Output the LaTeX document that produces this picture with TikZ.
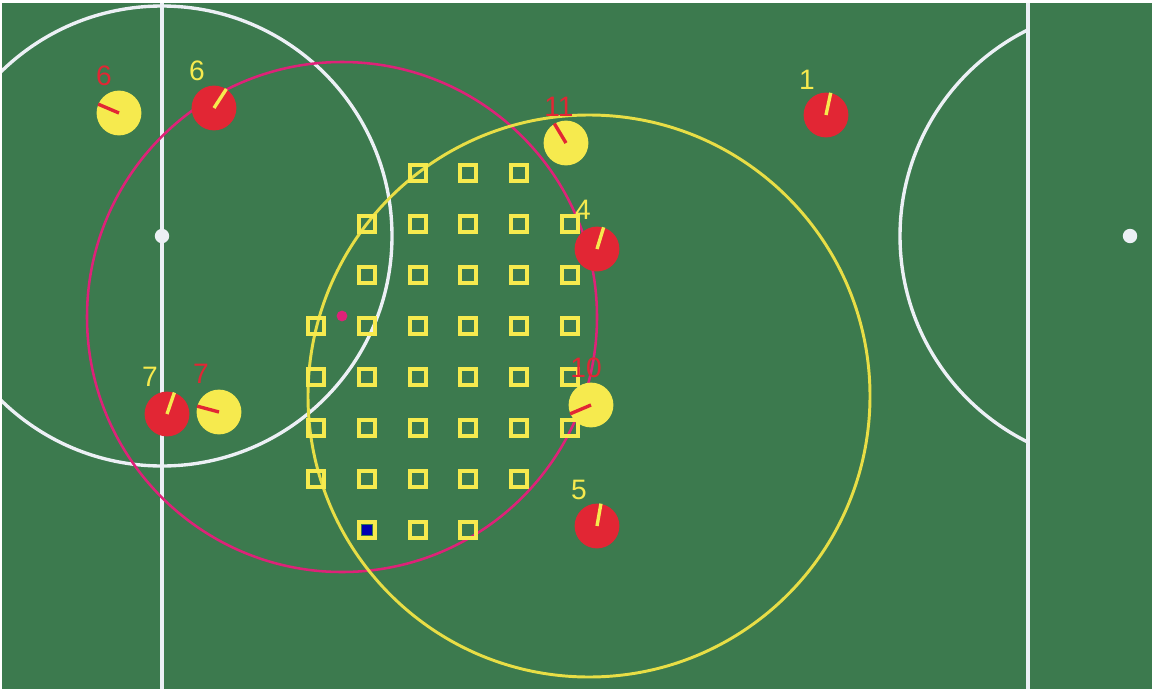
\documentclass[tikz,border=0pt]{standalone}
\usepackage{fontspec}
\setmainfont{Liberation Sans}
\usepackage{tikz}
\usetikzlibrary{positioning}
\definecolor{pitch}{RGB}{60,122,78}
\definecolor{botred}{RGB}{226,38,52}
\definecolor{botyel}{RGB}{246,234,78}
\definecolor{zonemag}{RGB}{222,34,120}
\definecolor{zoneyel}{RGB}{232,222,70}
\definecolor{chalk}{RGB}{236,240,245}
\tikzset{
  chalkline/.style={draw=chalk, line width=2.4pt},
  redbot/.style={circle, fill=botred, minimum size=1.12cm, inner sep=0pt},
  yelbot/.style={circle, fill=botyel, minimum size=1.12cm, inner sep=0pt},
  redhead/.style={draw=botred, line width=2.4pt},
  yelhead/.style={draw=botyel, line width=2.4pt},
  redtag/.style={text=botred, font=\fontsize{20}{20}\selectfont, inner sep=0pt},
  yeltag/.style={text=botyel, font=\fontsize{20}{20}\selectfont, inner sep=0pt},
  cell/.style={draw=botyel, line width=2.7pt, minimum size=0.41cm, inner sep=0pt},
  spot/.style={circle, fill=chalk, minimum size=0.36cm, inner sep=0pt}
}

\begin{document}
\begin{tikzpicture}[x=0.025cm, y=-0.025cm]
  \useasboundingbox[fill=white] (0,0) rectangle (1152,691);
  \fill[pitch] (2,3) rectangle (1152,689);
  \begin{scope}
    \clip (2,3) rectangle (1152,689);
    % field markings
    \draw[chalkline] (162,3) -- (162,689);
    \draw[chalkline] (1028,3) -- (1028,689);
    \draw[chalkline] (162,236) circle (230);
    \begin{scope}
      \clip (700,3) rectangle (1028,689);
      \draw[chalkline] (1130,236) circle (230);
    \end{scope}
    \node[spot] (lspot) at (162,236) {};
    \node[spot] (rspot) at (1130,236) {};
    % reach circles
    \draw[draw=zonemag, line width=1.8pt] (342,317) circle (255);
    \draw[draw=zoneyel, line width=2.1pt] (589,396) circle (281);
    \node[circle, fill=zonemag, minimum size=0.27cm, inner sep=0pt] (aim) at (342,316) {};
  \end{scope}

  % candidate cells
  \foreach \yy/\xs in {173/{418,468,519},
                       224/{367,418,468,519,570},
                       275/{367,418,468,519,570},
                       326/{316,367,418,468,519,570},
                       377/{316,367,418,468,519,570},
                       428/{316,367,418,468,519,570},
                       479/{316,367,418,468,519},
                       530/{367,418,468}}
    \foreach \xx in \xs
      \node[cell] (c-\xx-\yy) at (\xx,\yy) {};
  \node[fill=blue!70!black, minimum size=0.26cm, inner sep=0pt] (best) at (c-367-530) {};

  % robots
  \node[yelbot] (y6) at (119,113) {};
  \node[redbot] (r6) at (214,108) {};
  \node[yelbot] (y11) at (566,143) {};
  \node[redbot] (r1) at (826,115) {};
  \node[redbot] (r4) at (597,249) {};
  \node[yelbot] (y10) at (591,405) {};
  \node[redbot] (r5) at (597,526) {};
  \node[redbot] (r7) at (167,414) {};
  \node[yelbot] (y7) at (219,412) {};

  \draw[redhead] (y6.center) -- (y6.157);
  \draw[yelhead] (r6.center) -- (r6.57);
  \draw[redhead] (y11.center) -- (y11.121);
  \draw[yelhead] (r1.center) -- (r1.78);
  \draw[yelhead] (r4.center) -- (r4.73);
  \draw[redhead] (y10.center) -- (y10.203);
  \draw[yelhead] (r5.center) -- (r5.80);
  \draw[yelhead] (r7.center) -- (r7.71);
  \draw[redhead] (y7.center) -- (y7.165);

  \node[redtag] (y6tag) at (104,76) {6};
  \node[yeltag] (r6tag) at (197,71) {6};
  \node[redtag] (y11tag) at (559,107) {11};
  \node[yeltag] (r1tag) at (807,80) {1};
  \node[yeltag] (r4tag) at (583,210) {4};
  \node[redtag] (y10tag) at (586,368) {10};
  \node[yeltag] (r5tag) at (579,490) {5};
  \node[yeltag] (r7tag) at (150,377) {7};
  \node[redtag] (y7tag) at (201,374) {7};
\end{tikzpicture}
\end{document}
